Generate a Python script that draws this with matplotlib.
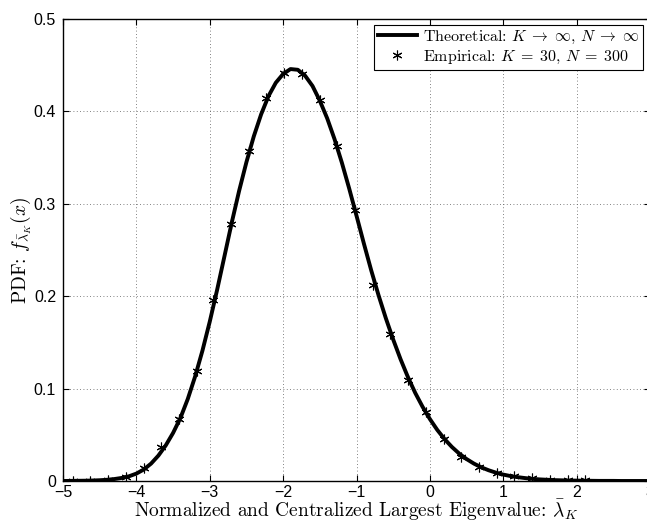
import numpy as np
import matplotlib
matplotlib.use("Agg")
import matplotlib.pyplot as plt

plt.rcParams['mathtext.fontset'] = 'cm'
plt.rcParams['font.family'] = ['Liberation Sans', 'DejaVu Sans']

# Tracy-Widom (beta = 2) density on a 0.1 grid
x_theory = np.round(np.arange(-5.0, 3.0001, 0.1), 1)
pdf_theory = [
    0.0000, 0.0001, 0.0002, 0.0003, 0.0005, 0.0008, 0.0013, 0.0021, 0.0033, 0.0051,   # -5.0 .. -4.1
    0.0080, 0.0124, 0.0188, 0.0275, 0.0385, 0.0520, 0.0682, 0.0887, 0.1130, 0.1410,   # -4.0 .. -3.1
    0.1725, 0.2068, 0.2432, 0.2798, 0.3140, 0.3452, 0.3730, 0.3968, 0.4165, 0.4310,   # -3.0 .. -2.1
    0.4405, 0.4458, 0.4450, 0.4385, 0.4275, 0.4115, 0.3925, 0.3700, 0.3445, 0.3165,   # -2.0 .. -1.1
    0.2870, 0.2570, 0.2280, 0.2010, 0.1760, 0.1530, 0.1318, 0.1125, 0.0953, 0.0803,   # -1.0 .. -0.1
    0.0670, 0.0553, 0.0453, 0.0368, 0.0296, 0.0237, 0.0188, 0.0148, 0.0116, 0.0090,   #  0.0 ..  0.9
    0.0069, 0.0053, 0.0041, 0.0031, 0.0023, 0.0017, 0.0013, 0.0009, 0.0007, 0.0005,   #  1.0 ..  1.9
    0.0004, 0.0003, 0.0002, 0.0001, 0.0001, 0.0001, 0.0000, 0.0000, 0.0000, 0.0000,   #  2.0 ..  2.9
    0.0000,                                                                           #  3.0
]

# histogram of simulated largest eigenvalues (K = 30, N = 300)
x_emp = [-4.87, -4.63, -4.39, -4.14, -3.90, -3.66, -3.42, -3.18, -2.95, -2.71,
         -2.47, -2.23, -1.99, -1.74, -1.50, -1.26, -1.02, -0.78, -0.54, -0.30,
         -0.05, 0.19, 0.43, 0.67, 0.91, 1.15, 1.39, 1.64, 1.88, 2.11]
pdf_emp = [0.0003, 0.0005, 0.0012, 0.0038, 0.0141, 0.0368, 0.0676, 0.1185, 0.1957, 0.2785,
           0.3568, 0.4143, 0.4420, 0.4405, 0.4118, 0.3622, 0.2928, 0.2120, 0.1590, 0.1093,
           0.0748, 0.0455, 0.0264, 0.0153, 0.0083, 0.0052, 0.0037, 0.0015, 0.0015, 0.0006]

x_ticks = [-5, -4, -3, -2, -1, 0, 1, 2, 3]
y_ticks = [0, 0.1, 0.2, 0.3, 0.4, 0.5]
y_ticklabels = ['0', '0.1', '0.2', '0.3', '0.4', '0.5']

serif = 'cmr10'

fig = plt.figure(figsize=(6.47, 5.24), dpi=100)
ax = fig.add_axes([0.0974, 0.0821, 0.9073, 0.8817])

ax.plot(x_theory, pdf_theory, color='k', lw=2.8,
        label=r'Theoretical: $K\;\rightarrow\;\infty,\,N\;\rightarrow\;\infty$')
ax.plot(x_emp, pdf_emp, ls='none', marker=(6, 2, 0), ms=7, mec='k', mew=0.8,
        color='k', label=r'Empirical: $K\;=\;30,\,N\;=\;300$')

ax.set_xlim(-5, 3)
ax.set_ylim(0, 0.5)
ax.set_xticks(x_ticks)
ax.set_xticklabels([str(t).replace('-', '\u2212') for t in x_ticks])
ax.set_yticks(y_ticks)
ax.set_yticklabels(y_ticklabels)
ax.tick_params(direction='in', top=True, right=True, length=4, width=0.8,
               labelsize=11.5)
ax.tick_params(axis='x', pad=3)
ax.tick_params(axis='y', pad=5)
ax.grid(True, color='0.35', linestyle=(0, (1, 3)), linewidth=0.6)
for sp in ax.spines.values():
    sp.set_linewidth(1.0)

ax.set_xlabel(r'Normalized and Centralized Largest Eigenvalue: $\bar{\lambda}_K$',
              fontsize=14, family=serif, labelpad=-1.5)
ax.set_ylabel(r'PDF: $f_{\bar{\lambda}_K}(x)$', fontsize=14, family=serif, labelpad=0)

leg = ax.legend(loc='upper right', bbox_to_anchor=(0.988, 0.987), borderaxespad=0,
                prop={'family': serif, 'size': 11.5}, fancybox=False, edgecolor='k',
                framealpha=1, handlelength=2.45, handletextpad=0.35, borderpad=0.25,
                labelspacing=0.15)
leg.get_frame().set_linewidth(0.8)

fig.savefig('out.png', dpi=100)
